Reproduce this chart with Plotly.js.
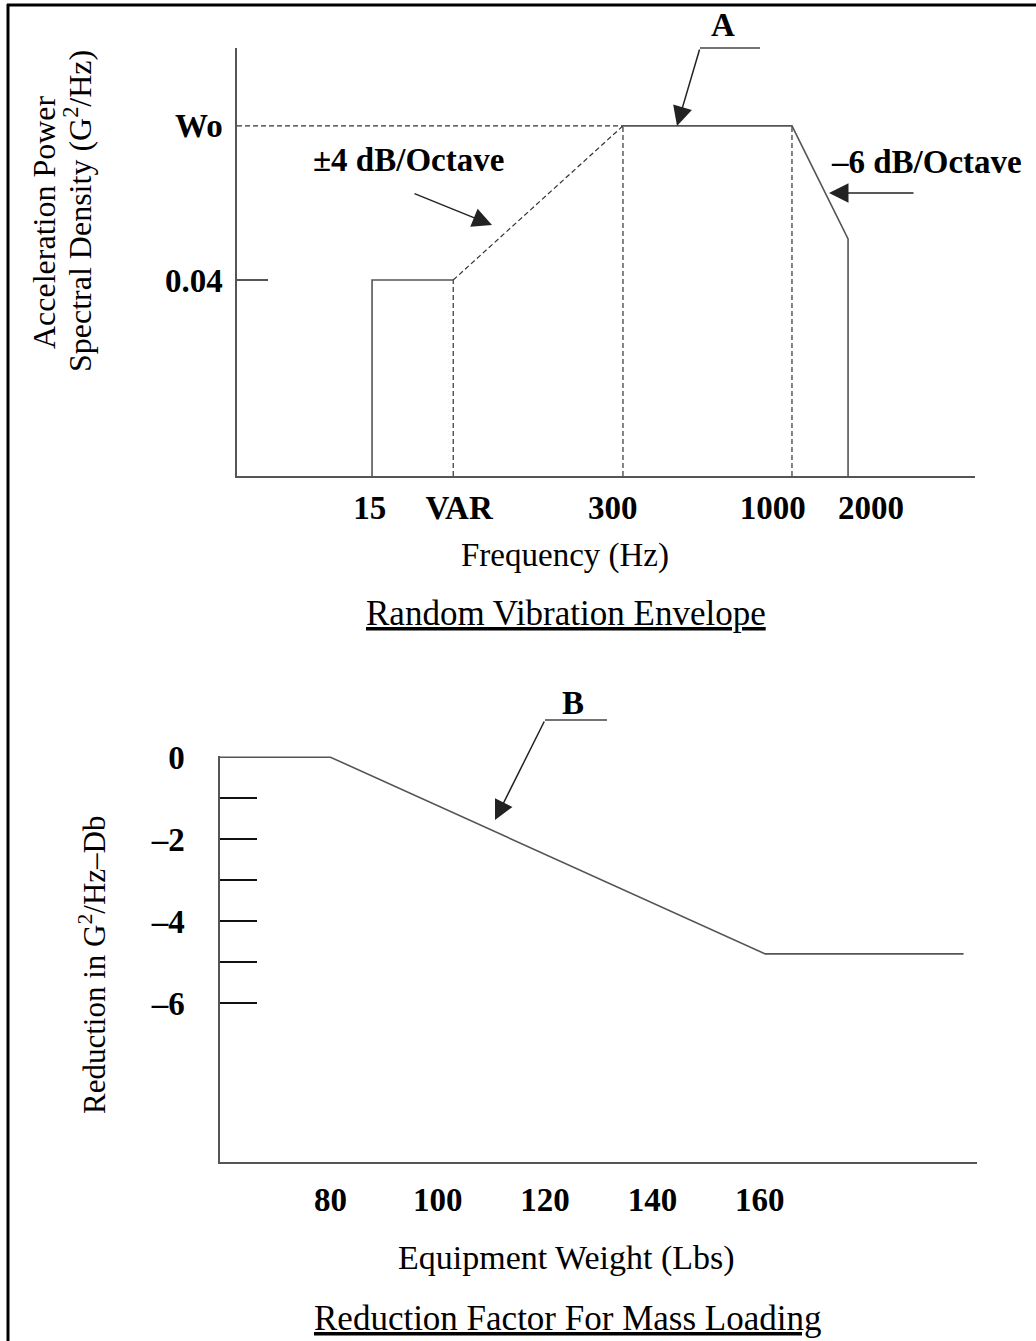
<!DOCTYPE html>
<html>
<head>
<meta charset="utf-8">
<script src="https://cdn.plot.ly/plotly-3.0.1.min.js"></script>
<style>
  html, body { margin: 0; padding: 0; background: #fff; }
  #chart { width: 1036px; height: 1341px; }
</style>
</head>
<body>
<div id="chart"></div>
<script>
// ---------------- DATA ----------------
// Upper diagram: random vibration envelope (schematic, not to scale)
const freqLabels   = ['15', 'VAR', '300', '1000', '2000'];
const freqPos      = [18.3, 29.3, 52.3, 75.2, 82.8];   // break frequencies, schematic axis units
const freqLabelPos = [18.0, 30.1, 50.9, 72.6, 85.9];   // where the frequency labels are written
const psdLabels    = ['0.04', 'Wo'];
const psdPos       = [45.8, 81.8];                     // PSD levels, schematic axis units
const rolloffEnd   = 55.4;                             // PSD level reached at 2000 Hz after −6 dB/Octave

// Lower diagram: reduction factor for mass loading
const weightTicks  = [80, 100, 120, 140, 160];
const weightPts    = [59.4, 80, 161, 198];             // lbs
const reductionDb  = [0, 0, -4.8, -4.8];               // dB
const dbTickVals   = [0, -2, -4, -6];
const dbTickText   = ['0', '–2', '–4', '–6'];
const dbMinorVals  = [-1, -2, -3, -4, -5, -6];

// ---------------- LAYOUT HELPERS ----------------
const W = 1036, H = 1341;
const px = x => x / W;
const py = y => 1 - y / H;
const SERIF = 'Liberation Serif, Times New Roman, serif';
const LINE = '#555';

const [f15, fVAR, f300, f1000, f2000] = freqPos;
const [lowPSD, wo] = psdPos;

const solidTop = {
  x: [f15, f15, fVAR, null, f300, f1000, f2000, f2000],
  y: [0, lowPSD, lowPSD, null, wo, wo, rolloffEnd, 0],
  xaxis: 'x', yaxis: 'y', mode: 'lines', type: 'scatter',
  line: { color: LINE, width: 1.6 }, hoverinfo: 'skip'
};
const dashedTop = {
  x: [0, f300, null, fVAR, fVAR, null, fVAR, f300, null, f300, f300, null, f1000, f1000],
  y: [wo, wo, null, 0, lowPSD, null, lowPSD, wo, null, 0, wo, null, 0, wo],
  xaxis: 'x', yaxis: 'y', mode: 'lines', type: 'scatter',
  line: { color: '#333', width: 1.2, dash: '5px,3px' }, hoverinfo: 'skip'
};
const reductionLine = {
  x: weightPts, y: reductionDb,
  xaxis: 'x2', yaxis: 'y2', mode: 'lines', type: 'scatter',
  line: { color: LINE, width: 1.6 }, hoverinfo: 'skip'
};

const tickFont = { family: SERIF, size: 33, color: '#000', weight: 'bold' };

function label(x, y, text, size, extra) {
  return Object.assign({ xref: 'paper', yref: 'paper', x: px(x), y: py(y), text: text,
    showarrow: false, xanchor: 'center', yanchor: 'middle',
    font: { family: SERIF, size: size, color: '#000' } }, extra || {});
}
function arrow(tipX, tipY, tailX, tailY) {
  return { xref: 'paper', yref: 'paper', x: px(tipX), y: py(tipY), ax: tailX - tipX, ay: tailY - tipY,
    text: '', showarrow: true, arrowhead: 2, arrowsize: 2.6, arrowwidth: 1.5, arrowcolor: '#222', standoff: 0 };
}

const layout = {
  width: W, height: H,
  margin: { l: 0, r: 0, t: 0, b: 0 },
  paper_bgcolor: '#fff', plot_bgcolor: 'rgba(0,0,0,0)',
  showlegend: false, hovermode: false,
  xaxis: {
    domain: [px(237), px(975)], anchor: 'y', range: [0, 100],
    showline: true, linecolor: LINE, linewidth: 1.6,
    showgrid: false, zeroline: false, ticks: '',
    tickmode: 'array', tickvals: freqLabelPos, ticktext: freqLabels,
    tickfont: tickFont, ticklabelstandoff: 2
  },
  yaxis: {
    domain: [py(476), py(48)], anchor: 'x', range: [0, 100],
    showline: true, linecolor: LINE, linewidth: 1.6,
    showgrid: false, zeroline: false, ticks: '',
    tickmode: 'array', tickvals: psdPos, ticktext: psdLabels,
    tickfont: tickFont, ticklabelstandoff: 6,
    minor: { tickmode: 'array', tickvals: [lowPSD], ticks: 'inside', ticklen: 31, tickwidth: 1.6, tickcolor: LINE, showgrid: false }
  },
  xaxis2: {
    domain: [px(220), px(977)], anchor: 'y2', range: [59.4, 200.5],
    showline: true, linecolor: LINE, linewidth: 1.6,
    showgrid: false, zeroline: false, ticks: '',
    tickmode: 'array', tickvals: weightTicks, ticktext: weightTicks.map(String),
    tickfont: tickFont, ticklabelstandoff: 8
  },
  yaxis2: {
    domain: [py(1162), py(756)], anchor: 'x2', range: [-9.88, 0.03],
    showline: true, linecolor: LINE, linewidth: 1.6,
    showgrid: false, zeroline: false, ticks: '',
    tickmode: 'array', tickvals: dbTickVals, ticktext: dbTickText,
    tickfont: tickFont, ticklabelstandoff: 27,
    minor: { tickmode: 'array', tickvals: dbMinorVals, ticks: 'inside', ticklen: 37, tickwidth: 2.5, tickcolor: '#111', showgrid: false }
  },
  shapes: [
    // frame (left and top edges of the figure border)
    { type: 'line', xref: 'paper', yref: 'paper', x0: px(8), x1: px(8), y0: py(4), y1: py(1345), line: { color: '#000', width: 3 } },
    { type: 'line', xref: 'paper', yref: 'paper', x0: px(7), x1: px(1040), y0: py(5), y1: py(5), line: { color: '#000', width: 3 } },
    // leader bars of callouts A and B
    { type: 'line', xref: 'paper', yref: 'paper', x0: px(700), x1: px(760), y0: py(48), y1: py(48), line: { color: '#444', width: 1.6 } },
    { type: 'line', xref: 'paper', yref: 'paper', x0: px(545), x1: px(607), y0: py(720), y1: py(720), line: { color: '#444', width: 1.6 } }
  ],
  annotations: [
    // callouts
    label(723, 25, '<b>A</b>', 33),
    label(573, 703, '<b>B</b>', 33),
    label(408, 160, '<b>±4 dB/Octave</b>', 33),
    label(829, 162, '<b>–6 dB/Octave</b>', 33, { xanchor: 'left' }),
    // arrows
    arrow(677, 126, 700, 48),
    arrow(492, 225, 413, 193),
    arrow(829, 193, 915, 193),
    arrow(495, 820, 545, 720),
    // axis titles
    label(44, 222, 'Acceleration Power', 32, { textangle: -90 }),
    label(78, 211, 'Spectral Density (G<sup>2</sup>/Hz)', 32, { textangle: -90 }),
    label(565, 555, 'Frequency (Hz)', 33),
    label(566, 613, '<u>Random Vibration Envelope</u>', 35),
    label(92, 965, 'Reduction in G<sup>2</sup>/Hz–Db', 31, { textangle: -90 }),
    label(566, 1258, 'Equipment Weight (Lbs)', 34),
    label(567, 1318, '<u>Reduction Factor For Mass Loading</u>', 35)
  ]
};

Plotly.newPlot('chart', [dashedTop, solidTop, reductionLine], layout, { displayModeBar: false, staticPlot: true });
</script>
</body>
</html>
